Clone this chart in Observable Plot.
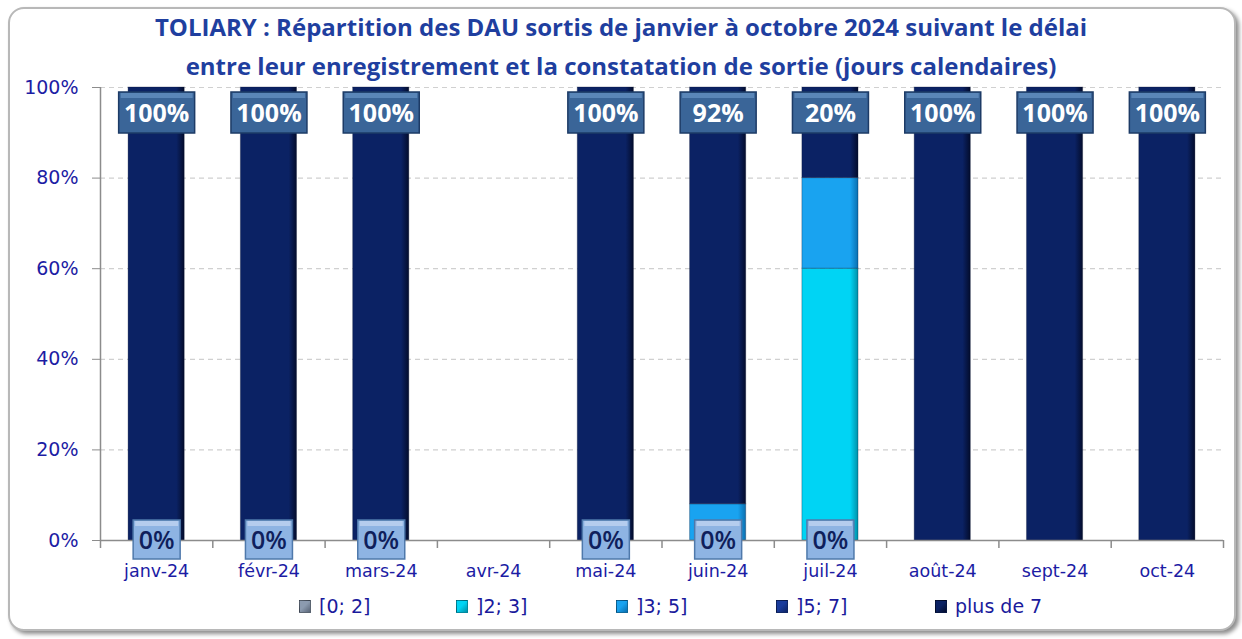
<!DOCTYPE html>
<html>
<head>
<meta charset="utf-8">
<script src="https://cdn.jsdelivr.net/npm/d3@7"></script>
<script src="https://cdn.jsdelivr.net/npm/@observablehq/plot@0.6"></script>
<style>
  html, body { margin: 0; padding: 0; background: #ffffff; }
  #wrap { position: relative; width: 1242px; height: 639px; overflow: hidden; background: #fff; }
  #frame { position: absolute; left: 8px; top: 7px; width: 1224px; height: 620px;
           border: 2px solid #b8b8b8; border-radius: 16px; box-shadow: 3px 3px 4px rgba(0,0,0,0.45); background: #fff; }
  #title { position: absolute; left: 0; top: 7px; width: 1242px; text-align: center;
           font-family: "Open Sans", sans-serif; font-weight: 700; font-size: 24px; line-height: 39px;
           color: #1f3f9f; letter-spacing: 0px; }
  #chart { position: absolute; left: 0; top: 0; }
  #legend { position: absolute; left: 0; top: 592px; width: 1242px; height: 28px;
            font-family: "DejaVu Sans", sans-serif; font-size: 19px; color: #1a1a9c; }
  .li { position: absolute; top: 0; display: flex; align-items: center; height: 28px; white-space: nowrap; }
  .sw { width: 12px; height: 13px; margin-right: 8px; box-sizing: border-box; }
</style>
</head>
<body>
<div id="wrap">
  <div id="frame"></div>
  <div id="title">TOLIARY : Répartition des DAU sortis de janvier à octobre 2024 suivant le délai<br>entre leur enregistrement et la constatation de sortie (jours calendaires)</div>
  <div id="chart"></div>
  <div id="legend"></div>
</div>
<script>
// ---- data ----
const months = ["janv-24","févr-24","mars-24","avr-24","mai-24","juin-24","juil-24","août-24","sept-24","oct-24"];
const seriesNames = ["[0; 2]","]2; 3]","]3; 5]","]5; 7]","plus de 7"];
const s0_2   = [0, 0, 0, null, 0, 0, 0, null, null, null];
const s2_3   = [0, 0, 0, null, 0, 0, 60, 0, 0, 0];
const s3_5   = [0, 0, 0, null, 0, 8, 20, 0, 0, 0];
const s5_7   = [0, 0, 0, null, 0, 0, 0, 0, 0, 0];
const sPlus7 = [100, 100, 100, null, 100, 92, 20, 100, 100, 100];
const yTicks = [0, 20, 40, 60, 80, 100];
const seriesColors = ["#8c9bb0", "#00d4f4", "#19a3f0", "#1a3c9c", "#0b2264"];
const seriesDark   = ["#5a6678", "#0090a8", "#0a6fb0", "#0e2466", "#030c2c"];

const seriesValues = [s0_2, s2_3, s3_5, s5_7, sPlus7];
const rows = [];
months.forEach((m, i) => {
  seriesNames.forEach((s, k) => {
    const v = seriesValues[k][i];
    if (v != null) rows.push({month: m, series: s, value: v});
  });
});
const topLabels = months.map((m, i) => ({month: m, value: sPlus7[i]})).filter(d => d.value != null);
const bottomLabels = months.map((m, i) => ({month: m, value: s0_2[i]})).filter(d => d.value != null);

const boxSym = (w, h) => ({draw(ctx) { ctx.rect(-w / 2, -h / 2, w, h); }});

const W = 1242, H = 585;
const half = 1123 / 20;
const chart = Plot.plot({
  width: W,
  height: H,
  marginLeft: 100,
  marginRight: 19,
  marginTop: 87,
  marginBottom: 45,
  style: {fontFamily: "DejaVu Sans, sans-serif", background: "transparent", overflow: "visible"},
  x: {domain: months, paddingInner: 0.5, paddingOuter: 0.25, round: false, label: null},
  y: {domain: [0, 100], label: null},
  color: {domain: seriesNames, range: seriesColors},
  marks: [
    Plot.ruleY(yTicks.filter(d => d > 0), {stroke: "#d0d0d0", strokeDasharray: "5,4", strokeWidth: 1.2}),
    Plot.barY(rows, Plot.stackY({x: "month", y: "value", fill: "series", order: seriesNames,
      stroke: "#06112e", strokeOpacity: 0.3, strokeWidth: 1})),
    Plot.ruleY([0], {stroke: "#8c8c8c", strokeWidth: 1.5}),
    Plot.ruleX([0], {x: () => months[0], dx: -half, y1: 0, y2: 100, stroke: "#8c8c8c", strokeWidth: 1.5}),
    Plot.ruleX(months, {x: d => d, dx: -half, y1: 0, y2: 0, insetBottom: -8, stroke: "#8c8c8c", strokeWidth: 1.5}),
    Plot.ruleX([months[months.length - 1]], {x: d => d, dx: half, y1: 0, y2: 0, insetBottom: -8, stroke: "#8c8c8c", strokeWidth: 1.5}),
    Plot.axisY({ticks: yTicks, tickFormat: d => d + "%", tickSize: 8, tickPadding: 14,
      fontSize: 19, color: "#1c1ca4", stroke: "#8c8c8c", label: null}),
    Plot.axisX({tickSize: 0, tickPadding: 24, fontSize: 17.5, color: "#1c1ca4", label: null}),
    // top labels (plus de 7)
    Plot.dot(topLabels, {x: "month", y: 100, dy: 25, symbol: boxSym(76, 41), fill: "#3a6598", stroke: "#1d3b66", strokeWidth: 1.5}),
    Plot.dot(topLabels, {x: "month", y: 100, dy: 8, symbol: boxSym(72, 5), fill: "#5a86b8", stroke: "none"}),
    Plot.text(topLabels, {x: "month", y: 100, dy: 26, text: d => d.value + "%", fill: "white",
      fontFamily: "Open Sans, sans-serif", fontWeight: 700, fontSize: 25}),
    // bottom labels ([0; 2])
    Plot.dot(bottomLabels, {x: "month", y: 0, dy: -1, symbol: boxSym(47, 39), fill: "#8eb4e3", stroke: "#4f79ab", strokeWidth: 1.5}),
    Plot.dot(bottomLabels, {x: "month", y: 0, dy: -17, symbol: boxSym(43, 5), fill: "#b5cdee", stroke: "none"}),
    Plot.text(bottomLabels, {x: "month", y: 0, dy: 0, text: d => d.value + "%", fill: "#0f1f5c",
      fontFamily: "Open Sans, sans-serif", fontWeight: 600, fontSize: 25})
  ]
});
document.getElementById("chart").appendChild(chart);

// bevel-like horizontal gradients on the bars
const svg = d3.select(chart);
const defs = svg.insert("defs", ":first-child");
seriesColors.forEach((c, k) => {
  const g = defs.append("linearGradient").attr("id", "grad" + k).attr("x1", 0).attr("x2", 1).attr("y1", 0).attr("y2", 0);
  g.append("stop").attr("offset", "0%").attr("stop-color", c);
  g.append("stop").attr("offset", "86%").attr("stop-color", c);
  g.append("stop").attr("offset", "100%").attr("stop-color", seriesDark[k]);
});
svg.selectAll("g[aria-label='bar'] rect").each(function() {
  const f = (this.getAttribute("fill") || "").toLowerCase();
  const k = seriesColors.indexOf(f);
  if (k >= 0) this.setAttribute("fill", "url(#grad" + k + ")");
});

// legend
const legendX = [299, 456, 616, 776, 935];
const legend = document.getElementById("legend");
seriesNames.forEach((s, k) => {
  const item = document.createElement("div");
  item.className = "li";
  item.style.left = legendX[k] + "px";
  const sw = document.createElement("span");
  sw.className = "sw";
  sw.style.background = `linear-gradient(135deg, ${seriesColors[k]} 45%, ${seriesDark[k]} 100%)`;
  sw.style.border = "1px solid rgba(0,0,0,0.35)";
  item.appendChild(sw);
  const t = document.createElement("span");
  t.textContent = s;
  item.appendChild(t);
  legend.appendChild(item);
});
</script>
</body>
</html>
